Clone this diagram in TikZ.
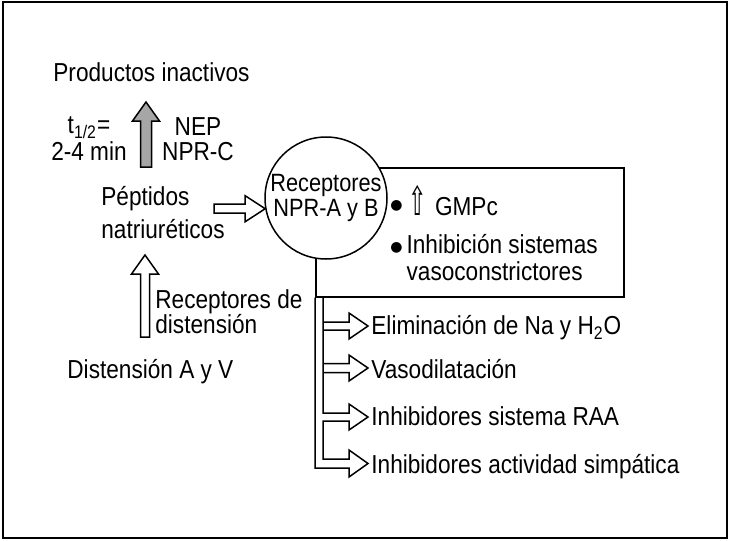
\documentclass[tikz,border=0pt]{standalone}
\usepackage{fontspec}
\setmainfont{Liberation Sans}[FakeStretch=0.87]
\newfontfamily\arrowfont{DejaVu Sans}[FakeStretch=0.55]
\newfontfamily\dotfont{DejaVu Sans}
\newcommand\bul{{\dotfont\fontsize{7}{7}\selectfont ●}}
\usetikzlibrary{calc}

\tikzset{
  lbl/.style={inner sep=0pt, font=\fontsize{13}{12.5}\selectfont},
  wire/.style={line width=0.75pt, line join=miter},
  hollow/.style={wire, draw, fill=white},
  grayhollow/.style={hollow, fill=black!35},
}

\begin{document}
\begin{tikzpicture}[x=0.5pt, y=-0.5pt]
  \useasboundingbox (0,0) rectangle (730,541);
  % frame
  \draw[wire] (3,2) rectangle (727,538);

  % left column
  \node[lbl, anchor=base west] (prod) at (53,81.6) {Productos inactivos};
  \node[lbl, align=center, anchor=base] (thalf) at (89,160.6) {t\textsubscript{1/2}=\\[1pt]2-4 min};
  \node[lbl, align=center, anchor=base] (nep) at (198,160.6) {NEP\\NPR-C};
  \node[lbl, align=left, anchor=base west] (pept) at (101,238.6) {Péptidos\\[4pt]natriuréticos};
  \node[lbl, align=left, anchor=base west] (recdist) at (155,333.6) {Receptores de\\distensión};
  \node[lbl, anchor=base west] (dist) at (67,378.6) {Distensión A y V};

  % receptor and effects box
  \node[wire, draw, anchor=north west, inner sep=0pt,
        minimum width=154pt, minimum height=64.5pt] (efect) at (315,167) {};
  \node[lbl, wire, draw, fill=white, circle, align=center, font=\fontsize{12.5}{12.5}\selectfont,
        minimum size=61pt] (recep) at (326,198) {Receptores\\NPR-A y B};
  \node[lbl, anchor=base west] (gmpc) at (390,215.6)
    {\raisebox{3pt}{\bul}\hspace{3pt}{\arrowfont\fontsize{20}{20}\selectfont ⇧}\hspace{4pt}GMPc};
  \node[lbl, align=left, anchor=base west] (inhib) at (390,280.6)
    {\raisebox{1pt}{\bul}\hspace{2pt}Inhibición sistemas\\[1pt]\phantom{\bul\hspace{2pt}}vasoconstrictores};

  % actions
  \node[lbl, anchor=base west] (elim) at (371,334.6) {Eliminación de Na y H\textsubscript{2}O};
  \node[lbl, anchor=base west] (vaso) at (371,378.6) {Vasodilatación};
  \node[lbl, anchor=base west] (raa) at (371,425.6) {Inhibidores sistema RAA};
  \node[lbl, anchor=base west] (simp) at (371,473.6) {Inhibidores actividad simpática};

  % big arrows
  \coordinate (gtip) at (146,102);
  \coordinate (dtip) at (145,255);
  \draw[grayhollow] (gtip) -- ++(13.5,19) -- ++(-8,0) -- ++(0,46)
    -- ++(-11,0) -- ++(0,-46) -- ++(-8,0) -- cycle;
  \draw[hollow] (recep.190) -- ++(-20,-13) -- ++(0,8.5) -- ++(-31,0)
    -- ++(0,9) -- ++(31,0) -- ++(0,8.5) -- cycle;
  \draw[hollow] (dtip) -- ++(13.5,19) -- ++(-9,0) -- ++(0,63)
    -- ++(-9,0) -- ++(0,-63) -- ++(-9,0) -- cycle;

  % branches to the actions
  \coordinate (t1) at (368,326);
  \coordinate (t2) at (368,368);
  \coordinate (t3) at (368,417);
  \coordinate (t4) at (368,463.5);
  \draw[wire] (t1) ++(-45,-4) -- ++(26,0) -- ++(0,-9) -- (t1)
    -- ++(-19,13) -- ++(0,-9) -- ++(-26,0);
  \draw[wire] (t2) ++(-45,-4.5) -- ++(26,0) -- ++(0,-8.5) -- (t2)
    -- ++(-19,13) -- ++(0,-8.5) -- ++(-26,0);
  \draw[wire] ($(efect.south west)+(8,0)$) -- (323,413) -- (349,413) -- (349,404)
    -- (t3) -- (349,430) -- (349,421) -- (323,421) -- (323,459) -- (349,459)
    -- (349,450) -- (t4) -- (349,477) -- (349,468) -- (315,468)
    -- (efect.south west);
\end{tikzpicture}
\end{document}
